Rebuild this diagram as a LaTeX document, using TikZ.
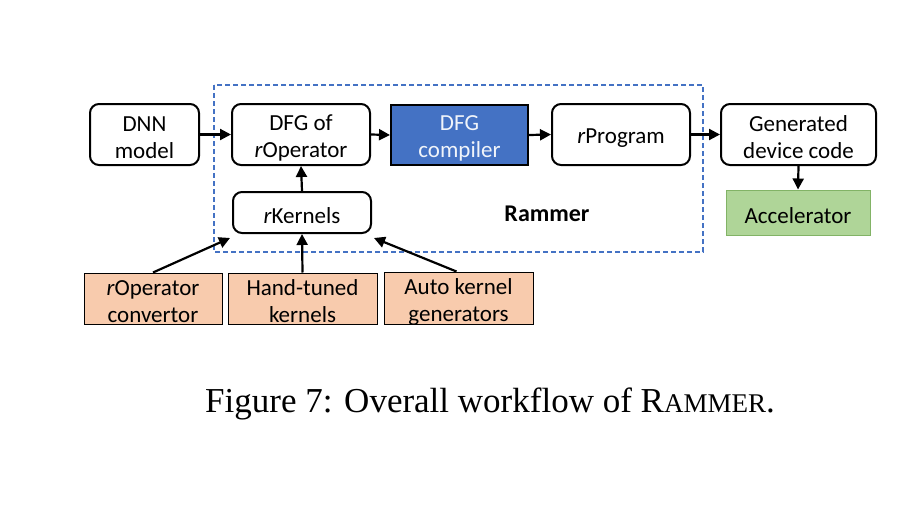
\documentclass[tikz,border=0pt]{standalone}
\usepackage{fontspec}
\setmainfont{Carlito}
\newfontfamily\capfont{Liberation Serif}
\usetikzlibrary{arrows.meta}
\definecolor{dblue}{HTML}{4472C4}
\definecolor{accfill}{HTML}{AFD598}
\definecolor{accdraw}{HTML}{82B366}
\definecolor{orfill}{HTML}{F8CBAD}
\newcommand{\tstrut}{\rule{0pt}{22pt}}
\tikzset{
  lbl/.style={font=\fontsize{23}{27}\selectfont, align=center, inner sep=0pt},
  rbox/.style={lbl, draw=black, line width=2pt, rounded corners=9pt, fill=white},
  compbox/.style={lbl, draw=black, line width=2pt, fill=dblue, text=white!92!dblue},
  accbox/.style={lbl, draw=accdraw, line width=1pt, fill=accfill},
  orbox/.style={lbl, draw=black, line width=1pt, fill=orfill},
  arr/.style={line width=2.2pt, -{Triangle[length=11pt,width=11pt]}},
}
\begin{document}
\begin{tikzpicture}[x=1pt,y=-1pt]
\useasboundingbox (0,0) rectangle (924,504);
\draw[dblue, line width=1.5pt, dash pattern=on 5pt off 3pt] (214,85) rectangle (703,252);
\node[rbox, minimum width=109pt, minimum height=61pt] (dnn) at (144.5,134.5) {\tstrut DNN\\model};
\node[rbox, minimum width=138pt, minimum height=61pt] (dfg) at (301,134.5) {\tstrut DFG of\\\textit{r}Operator};
\node[compbox, minimum width=137pt, minimum height=60pt] (comp) at (459.5,135) {\tstrut DFG\\compiler};
\node[rbox, minimum width=138pt, minimum height=61pt] (prog) at (621,134.5) {\tstrut\textit{r}Program};
\node[rbox, minimum width=155pt, minimum height=61pt] (gen) at (798.5,134.5) {\tstrut Generated\\device code};
\node[accbox, minimum width=144pt, minimum height=45pt] (acc) at (798,212.5) {\tstrut Accelerator};
\node[rbox, minimum width=138pt, minimum height=41pt] (rk) at (302,212.5) {\tstrut\textit{r}Kernels};
\node[lbl, font=\fontsize{24}{28}\selectfont\bfseries] (ram) at (547,214) {Rammer};
\node[orbox, minimum width=138pt, minimum height=51pt] (conv) at (153,298.5) {\tstrut\textit{r}Operator\\convertor};
\node[orbox, minimum width=149pt, minimum height=51pt] (hand) at (302.5,298.5) {\tstrut Hand-tuned\\kernels};
\node[orbox, minimum width=149pt, minimum height=51pt] (auto) at (458.5,298.5) {\tstrut Auto kernel\\generators};
\node[inner sep=0pt, font=\capfont\fontsize{35}{38}\selectfont] (cap) at (490,404) {Figure 7: Overall workflow of R{\fontsize{27}{27}\selectfont AMMER}.};
\draw[arr] (dnn.east) -- (dfg.west);
\draw[arr] (dfg.east) -- (comp.west);
\draw[arr] (comp.east) -- (prog.west);
\draw[arr] (prog.east) -- (gen.west);
\draw[arr] (gen.south) -- (acc.north);
\draw[arr] (rk.north) -- (dfg.south);
\draw[arr] (hand.north) -- (rk.south);
\draw[arr] (conv.north) -- ([xshift=-2pt,yshift=-4pt]rk.south west);
\draw[arr] ([xshift=-2pt]auto.north) -- ([xshift=2pt,yshift=-4pt]rk.south east);
\end{tikzpicture}
\end{document}
